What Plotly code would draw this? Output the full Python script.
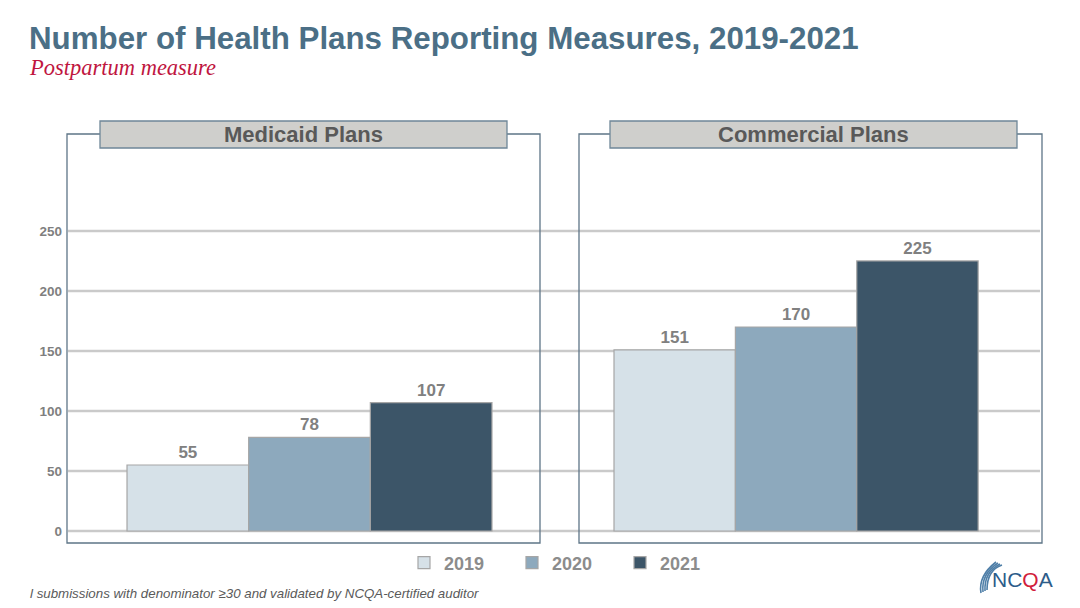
import plotly.graph_objects as go

# ---------------- data ----------------
panels = ["Medicaid Plans", "Commercial Plans"]
years = ["2019", "2020", "2021"]
medicaid = [55, 78, 107]
commercial = [151, 170, 225]
year_colors = ["#D6E1E8", "#8DA9BD", "#3C5568"]
y_ticks = [0, 50, 100, 150, 200, 250]

# page body has an 8px margin; work in window pixel coordinates
OFF = 8
W, H = 1080 - OFF, 608 - OFF


def px(x):
    return (x - OFF) / W


def py(y):
    return 1 - (y - OFF) / H


fig = go.Figure()

series = [medicaid, commercial]
axes = [("x", "y"), ("x2", "y2")]
for p, (panel, vals) in enumerate(zip(panels, series)):
    for i, yr in enumerate(years):
        fig.add_trace(go.Bar(
            x=[panel], y=[vals[i]], name=yr,
            xaxis=axes[p][0], yaxis=axes[p][1],
            marker=dict(color=year_colors[i], line=dict(color="#A6A6A6", width=1.2)),
            text=[vals[i]], textposition="outside", cliponaxis=False,
            textfont=dict(family="Liberation Sans, Arial", size=17, color="#808080", weight="bold"),
            showlegend=(p == 0), legendgroup=yr, offsetgroup=yr,
        ))

yrange = [-10, 330.8]
common_y = dict(range=yrange, showgrid=False, zeroline=False, showline=False,
                tickvals=y_ticks, fixedrange=True)

fig.update_layout(
    width=W, height=H,
    margin=dict(l=0, r=0, t=0, b=0),
    paper_bgcolor="white", plot_bgcolor="rgba(0,0,0,0)",
    barmode="group", bargap=0.23, bargroupgap=0,
    xaxis=dict(domain=[px(67), px(540)], range=[-0.5116, 0.4863], showticklabels=False,
               showgrid=False, zeroline=False, showline=False),
    xaxis2=dict(domain=[px(579), px(1042)], range=[-0.459, 0.520], showticklabels=False,
                showgrid=False, zeroline=False, showline=False),
    yaxis=dict(domain=[py(543), py(134)], **common_y,
               tickfont=dict(family="Liberation Sans, Arial", size=13.5, color="#7F7F7F", weight="bold"),
               ticks="", ticklabelstandoff=4),
    yaxis2=dict(domain=[py(543), py(134)], anchor="x2", showticklabels=False, **common_y),
    showlegend=True,
    legend=dict(orientation="h", x=px(404), xanchor="left", y=py(563), yanchor="middle",
                font=dict(family="Liberation Sans, Arial", size=18, color="#8C8C8C", weight="bold"),
                entrywidth=63, itemwidth=30, bgcolor="rgba(0,0,0,0)", traceorder="normal"),
)

shapes = []
# gridlines spanning both panels
for t in y_ticks:
    shapes.append(dict(type="line", xref="paper", yref="y", x0=px(68), x1=px(1040), y0=t, y1=t,
                       line=dict(color="#CACACA", width=2.5), layer="below"))
# panel frames
for (x0, x1) in [(67, 540), (579, 1042)]:
    shapes.append(dict(type="rect", xref="paper", yref="paper", x0=px(x0), x1=px(x1),
                       y0=py(543), y1=py(134), line=dict(color="#5E7587", width=1.3),
                       fillcolor="rgba(0,0,0,0)", layer="above"))
# header boxes
for (x0, x1) in [(100, 507), (610, 1017)]:
    shapes.append(dict(type="rect", xref="paper", yref="paper", x0=px(x0), x1=px(x1),
                       y0=py(148), y1=py(121), line=dict(color="#6F8798", width=1.3),
                       fillcolor="#CFCFCC", layer="above"))

# NCQA swoosh (decorative logo)
for k in range(4):
    shapes.append(dict(type="path", xref="paper", yref="paper",
                       path=f"M {px(981 + k*2)},{py(593 - k*1)} Q {px(978 + k*3)},{py(576 - k*2)} {px(996 + k*2)},{py(562 + k*1)}",
                       line=dict(color="#4F7FA8", width=1.6)))
fig.update_layout(shapes=shapes)

annotations = [
    dict(text="Number of Health Plans Reporting Measures, 2019-2021", x=px(27), y=py(38),
         xanchor="left", yanchor="middle", showarrow=False, xref="paper", yref="paper",
         font=dict(family="Liberation Sans, Arial", size=31.3, color="#4B6F86", weight="bold")),
    dict(text="<i>Postpartum measure</i>", x=px(27), y=py(68), xanchor="left", yanchor="middle",
         showarrow=False, xref="paper", yref="paper",
         font=dict(family="Liberation Serif, Times New Roman", size=22.5, color="#C0163F")),
    dict(text="<i>l submissions with denominator ≥30 and validated by NCQA-certified auditor</i>",
         x=px(28), y=py(593), xanchor="left", yanchor="middle", showarrow=False,
         xref="paper", yref="paper",
         font=dict(family="Liberation Sans, Arial", size=13.3, color="#5A5A5A")),
    dict(text="NC<span style='color:#D1203A'>Q</span>A", x=px(990), y=py(579), xanchor="left",
         yanchor="middle", showarrow=False, xref="paper", yref="paper",
         font=dict(family="Liberation Sans, Arial", size=21, color="#2D5C8A")),
]
for (x0, x1), panel in zip([(100, 507), (610, 1017)], panels):
    annotations.append(dict(text=panel, x=px((x0 + x1) / 2), y=py(134.5), xanchor="center",
                            yanchor="middle", showarrow=False, xref="paper", yref="paper",
                            font=dict(family="Liberation Sans, Arial", size=22, color="#595959",
                                      weight="bold")))
fig.update_layout(annotations=annotations)

fig.write_html("out.html")
